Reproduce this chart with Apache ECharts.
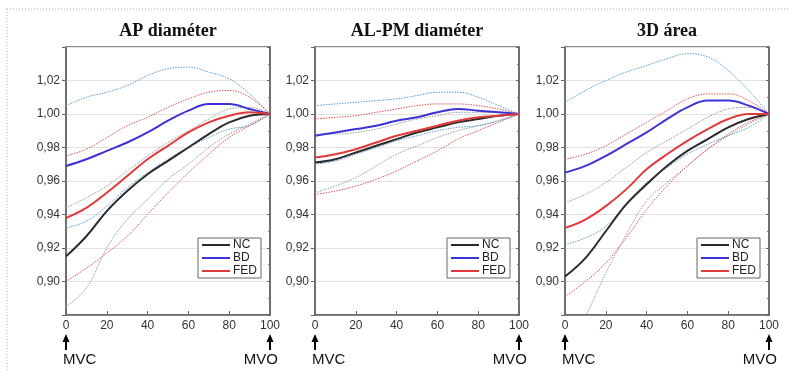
<!DOCTYPE html>
<html><head><meta charset="utf-8">
<script src="https://cdn.jsdelivr.net/npm/echarts@6/dist/echarts.min.js"></script>
<style>html,body{margin:0;padding:0;background:#fff}#c{width:790px;height:372px}</style>
</head><body><div id="c"></div>
<script>
// ---- data ----
const xs = [0, 10, 20, 30, 40, 50, 60, 70, 80, 90, 100];
const titles = ['AP diaméter', 'AL-PM diaméter', '3D área'];
const yTicks = [0.90, 0.92, 0.94, 0.96, 0.98, 1.00, 1.02];
const legendNames = ['NC', 'BD', 'FED'];

// AP diameter
const ap_NC     = [0.915, 0.927, 0.942, 0.954, 0.964, 0.972, 0.980, 0.988, 0.995, 0.999, 1.000];
const ap_NC_hi  = [0.944, 0.950, 0.957, 0.966, 0.975, 0.983, 0.990, 0.997, 1.003, 1.004, 1.000];
const ap_NC_lo  = [0.885, 0.896, 0.920, 0.937, 0.949, 0.961, 0.970, 0.980, 0.988, 0.994, 1.000];
const ap_BD     = [0.969, 0.973, 0.978, 0.983, 0.989, 0.996, 1.002, 1.006, 1.006, 1.003, 1.000];
const ap_BD_hi  = [1.005, 1.010, 1.013, 1.017, 1.023, 1.027, 1.028, 1.025, 1.021, 1.012, 1.000];
const ap_BD_lo  = [0.932, 0.936, 0.945, 0.956, 0.965, 0.973, 0.980, 0.986, 0.991, 0.993, 1.000];
const ap_FED    = [0.938, 0.944, 0.953, 0.963, 0.973, 0.981, 0.989, 0.995, 0.999, 1.001, 1.000];
const ap_FED_hi = [0.975, 0.979, 0.986, 0.993, 0.998, 1.004, 1.009, 1.013, 1.014, 1.010, 1.000];
const ap_FED_lo = [0.900, 0.908, 0.917, 0.927, 0.940, 0.953, 0.965, 0.976, 0.986, 0.993, 1.000];

// AL-PM diameter
const al_NC     = [0.971, 0.973, 0.977, 0.981, 0.985, 0.989, 0.992, 0.995, 0.997, 0.999, 1.000];
const al_NC_hi  = [0.988, 0.988, 0.989, 0.991, 0.994, 0.997, 0.999, 1.001, 1.001, 1.001, 1.000];
const al_NC_lo  = [0.953, 0.957, 0.962, 0.969, 0.976, 0.981, 0.986, 0.990, 0.993, 0.996, 1.000];
const al_BD     = [0.987, 0.989, 0.991, 0.993, 0.996, 0.998, 1.001, 1.003, 1.002, 1.001, 1.000];
const al_BD_hi  = [1.005, 1.006, 1.007, 1.008, 1.009, 1.011, 1.013, 1.013, 1.010, 1.005, 1.000];
const al_BD_lo  = [0.970, 0.972, 0.976, 0.980, 0.984, 0.987, 0.990, 0.992, 0.993, 0.996, 1.000];
const al_FED    = [0.974, 0.976, 0.979, 0.983, 0.987, 0.990, 0.993, 0.996, 0.998, 0.999, 1.000];
const al_FED_hi = [0.997, 0.998, 0.999, 1.001, 1.003, 1.005, 1.006, 1.006, 1.005, 1.003, 1.000];
const al_FED_lo = [0.952, 0.954, 0.957, 0.961, 0.966, 0.972, 0.978, 0.985, 0.990, 0.995, 1.000];

// 3D area
const ar_NC     = [0.903, 0.914, 0.930, 0.946, 0.958, 0.969, 0.978, 0.985, 0.992, 0.997, 1.000];
const ar_NC_hi  = [0.947, 0.952, 0.959, 0.968, 0.977, 0.984, 0.991, 0.998, 1.003, 1.004, 1.000];
const ar_NC_lo  = [0.858, 0.879, 0.905, 0.928, 0.948, 0.959, 0.969, 0.979, 0.987, 0.994, 1.000];
const ar_BD     = [0.965, 0.969, 0.975, 0.982, 0.989, 0.997, 1.004, 1.008, 1.008, 1.005, 1.000];
const ar_BD_hi  = [1.007, 1.014, 1.020, 1.025, 1.029, 1.033, 1.036, 1.034, 1.026, 1.014, 1.000];
const ar_BD_lo  = [0.922, 0.926, 0.933, 0.946, 0.959, 0.968, 0.976, 0.982, 0.987, 0.992, 1.000];
const ar_FED    = [0.932, 0.937, 0.945, 0.955, 0.967, 0.976, 0.984, 0.991, 0.997, 1.000, 1.000];
const ar_FED_hi = [0.973, 0.976, 0.981, 0.988, 0.995, 1.002, 1.009, 1.012, 1.012, 1.008, 1.000];
const ar_FED_lo = [0.891, 0.900, 0.911, 0.926, 0.943, 0.957, 0.969, 0.979, 0.988, 0.995, 1.000];

const panels = [
  {NC: ap_NC, NC_hi: ap_NC_hi, NC_lo: ap_NC_lo, BD: ap_BD, BD_hi: ap_BD_hi, BD_lo: ap_BD_lo, FED: ap_FED, FED_hi: ap_FED_hi, FED_lo: ap_FED_lo},
  {NC: al_NC, NC_hi: al_NC_hi, NC_lo: al_NC_lo, BD: al_BD, BD_hi: al_BD_hi, BD_lo: al_BD_lo, FED: al_FED, FED_hi: al_FED_hi, FED_lo: al_FED_lo},
  {NC: ar_NC, NC_hi: ar_NC_hi, NC_lo: ar_NC_lo, BD: ar_BD, BD_hi: ar_BD_hi, BD_lo: ar_BD_lo, FED: ar_FED, FED_hi: ar_FED_hi, FED_lo: ar_FED_lo}
];

// ---- style / layout ----
const gridLefts = [66, 315, 565];
const gridW = 204, gridTop = 47, gridH = 268;
const colors = {NC: '#2b2b2b', BD: '#3c32d6', FED: '#e23a3a'};
const bandColors = {NC: '#9a9a9a', BD: '#5d9ed2', FED: '#e05555'};
const yMin = 0.88, yMax = 1.04, yInt = 0.02;

const chart = echarts.init(document.getElementById('c'), null, {renderer: 'canvas'});

const grid = [], xAxis = [], yAxis = [], series = [], legend = [];
panels.forEach((p, g) => {
  grid.push({left: gridLefts[g], top: gridTop, width: gridW, height: gridH,
    show: true, borderColor: '#666', borderWidth: 1.5, backgroundColor: 'transparent'});
  xAxis.push({type: 'value', gridIndex: g, min: 0, max: 100, interval: 20,
    axisLine: {show: true, lineStyle: {color: '#666', width: 1.5}},
    axisTick: {show: true, inside: true, length: 4, lineStyle: {color: '#666'}},
    axisLabel: {fontFamily: 'Liberation Sans', fontSize: 12, color: '#333', margin: 5},
    splitLine: {show: false}});
  yAxis.push({type: 'value', gridIndex: g, min: yMin, max: yMax, interval: yInt,
    axisLine: {show: true, lineStyle: {color: '#666', width: 1.5}},
    axisTick: {show: true, inside: false, length: 4, lineStyle: {color: '#666'}},
    axisLabel: {fontFamily: 'Liberation Sans', fontSize: 12, color: '#333', margin: 6,
      formatter: v => {
        const r = Math.round(v * 100) / 100;
        return yTicks.some(t => Math.abs(t - r) < 1e-6) ? r.toFixed(2).replace('.', ',') : '';
      }},
    splitLine: {show: true, lineStyle: {color: '#e2e2e2', width: 1}}});
  yAxis.push({type: 'value', gridIndex: g, min: yMin, max: yMax, interval: yInt, position: 'right',
    axisLine: {show: true, lineStyle: {color: '#666', width: 1.5}},
    axisTick: {show: true, inside: true, length: 3, lineStyle: {color: '#666'}},
    minorTick: {show: true, splitNumber: 2, length: 2, lineStyle: {color: '#777'}},
    axisLabel: {show: false}, splitLine: {show: false}});
  const yIdx = g * 2;
  const mk = (key, name, color, width, dotted, z) => ({
    type: 'line', name: name, xAxisIndex: g, yAxisIndex: yIdx,
    data: xs.map((x, i) => [x, p[key][i]]),
    smooth: 0.4, showSymbol: false, symbol: 'none', clip: true, z: z,
    lineStyle: {color: color, width: width, type: dotted ? [1.5, 1.2] : 'solid'},
    itemStyle: {color: color}, emphasis: {disabled: true}, silent: true
  });
  ['NC', 'BD', 'FED'].forEach(k => {
    series.push(mk(k + '_hi', k + '_hi_' + g, bandColors[k], 1, true, 2));
    series.push(mk(k + '_lo', k + '_lo_' + g, bandColors[k], 1, true, 2));
  });
  ['NC', 'BD', 'FED'].forEach(k => {
    series.push(mk(k, k, colors[k], 2, false, 3));
  });
  legend.push({data: legendNames, orient: 'vertical',
    left: gridLefts[g] + gridW - 72, top: 238,
    icon: 'rect', itemWidth: 28, itemHeight: 2, itemGap: 1,
    padding: [1, 4, 1, 4], borderColor: '#666', borderWidth: 1, backgroundColor: '#fff',
    textStyle: {fontFamily: 'Liberation Sans', fontSize: 12, color: '#222', padding: [0, 0, 0, -2]},
    selectedMode: false, z: 10});
});

chart.setOption({
  animation: false, backgroundColor: '#fff',
  grid, xAxis, yAxis, series, legend
});

// annotations positioned from the axes
const graphic = [
  {type: 'line', shape: {x1: 7, y1: 9, x2: 790, y2: 9}, style: {stroke: '#aaa', lineWidth: 1, lineDash: [1, 2]}},
  {type: 'line', shape: {x1: 7, y1: 9, x2: 7, y2: 372}, style: {stroke: '#aaa', lineWidth: 1, lineDash: [1, 2]}}
];
panels.forEach((p, g) => {
  const pL = chart.convertToPixel({gridIndex: g}, [0, yMin]);
  const pR = chart.convertToPixel({gridIndex: g}, [100, yMax]);
  const cx = (pL[0] + pR[0]) / 2;
  graphic.push({type: 'text', x: cx, y: 31, style: {text: titles[g], fill: '#111',
    font: 'bold 18px "Liberation Serif"', textAlign: 'center', textVerticalAlign: 'middle'}});
  [pL[0], pR[0]].forEach((ax, j) => {
    graphic.push({type: 'polygon', shape: {points: [[ax, 334], [ax - 3.5, 342], [ax + 3.5, 342]]}, style: {fill: '#000'}});
    graphic.push({type: 'rect', shape: {x: ax - 1, y: 341, width: 2, height: 9}, style: {fill: '#000'}});
    graphic.push({type: 'text', x: j === 0 ? ax - 3 : ax + 8, y: 360,
      style: {text: j === 0 ? 'MVC' : 'MVO', fill: '#111', font: '15px "Liberation Sans"',
        textAlign: j === 0 ? 'left' : 'right', textVerticalAlign: 'middle'}});
  });
});
chart.setOption({graphic});
</script></body></html>
